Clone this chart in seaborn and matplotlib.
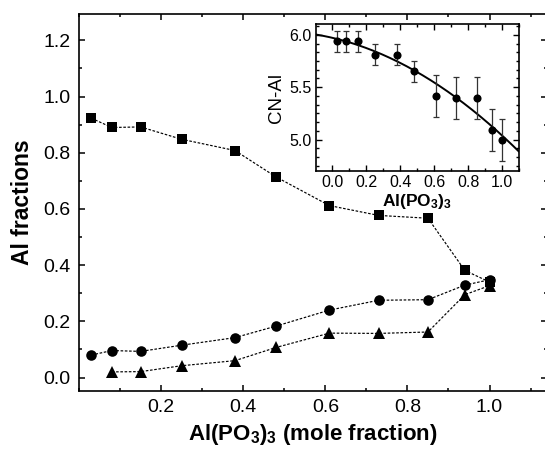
import numpy as np
import pandas as pd
import matplotlib
matplotlib.use("Agg")
import matplotlib.pyplot as plt
import seaborn as sns
from matplotlib.ticker import MultipleLocator, AutoMinorLocator

# ---- data ----
x_frac = [0.03, 0.08, 0.15, 0.25, 0.38, 0.48, 0.61, 0.73, 0.85, 0.94, 1.00]
al_square = [0.923, 0.890, 0.892, 0.848, 0.808, 0.714, 0.612, 0.577, 0.567, 0.381, 0.340]
al_circle = [0.080, 0.096, 0.093, 0.115, 0.142, 0.183, 0.240, 0.275, 0.277, 0.329, 0.348]
x_tri = [0.08, 0.15, 0.25, 0.38, 0.48, 0.61, 0.73, 0.85, 0.94, 1.00]
al_tri = [0.020, 0.021, 0.042, 0.060, 0.107, 0.158, 0.157, 0.162, 0.295, 0.327]

cn_al = [5.94, 5.94, 5.94, 5.81, 5.81, 5.65, 5.42, 5.40, 5.40, 5.09, 5.00]
cn_err = [0.10, 0.10, 0.10, 0.10, 0.10, 0.10, 0.20, 0.20, 0.20, 0.20, 0.20]

main_xticks = [0.2, 0.4, 0.6, 0.8, 1.0]
main_yticks = [0.0, 0.2, 0.4, 0.6, 0.8, 1.0, 1.2]
inset_xticks = [0.0, 0.2, 0.4, 0.6, 0.8, 1.0]
inset_yticks = [5.0, 5.5, 6.0]

sns.set_theme(style="ticks")
plt.rcParams['font.family'] = ['Liberation Sans', 'DejaVu Sans']
plt.rcParams['mathtext.fontset'] = 'custom'
plt.rcParams['mathtext.rm'] = 'Liberation Sans'
plt.rcParams['mathtext.bf'] = 'Liberation Sans:bold'
plt.rcParams['axes.linewidth'] = 1.2
plt.rcParams['text.color'] = 'black'
plt.rcParams['axes.labelcolor'] = 'black'
plt.rcParams['xtick.color'] = 'black'
plt.rcParams['ytick.color'] = 'black'
plt.rcParams['axes.edgecolor'] = 'black'

fig = plt.figure(figsize=(5.45, 4.51), dpi=100)
ax = fig.add_axes([79/545, 60/451, (547-79)/545, (391-14)/451])

dash = (0, (2.2, 1.4))
df_sq = pd.DataFrame({"x": x_frac, "y": al_square})
df_ci = pd.DataFrame({"x": x_frac, "y": al_circle})
df_tr = pd.DataFrame({"x": x_tri, "y": al_tri})
sns.lineplot(data=df_sq, x="x", y="y", ax=ax, color="black", lw=0.85,
             marker="s", markersize=7.0, markeredgewidth=0, linestyle=dash,
             errorbar=None, zorder=3)
sns.lineplot(data=df_ci, x="x", y="y", ax=ax, color="black", lw=0.85,
             marker="o", markersize=7.6, markeredgewidth=0, linestyle=dash,
             errorbar=None, zorder=4)
sns.lineplot(data=df_tr, x="x", y="y", ax=ax, color="black", lw=0.85,
             marker="^", markersize=8.6, markeredgewidth=0, linestyle=dash,
             errorbar=None, zorder=5)

ax.set_xlim(0.0, 1.14)
ax.set_ylim(-0.048, 1.294)
ax.set_xticks(main_xticks)
ax.set_xticklabels([f"{v:.1f}" for v in main_xticks])
ax.set_yticks(main_yticks)
ax.set_yticklabels([f"{v:.1f}" for v in main_yticks])
ax.xaxis.set_minor_locator(MultipleLocator(0.1))
ax.yaxis.set_minor_locator(MultipleLocator(0.1))
ax.tick_params(which="both", direction="in", top=True, right=True,
               width=1.1, colors="black")
ax.tick_params(which="major", length=4.5, labelsize=14, pad=6)
ax.tick_params(which="minor", length=2.5)
ax.set_xlabel(r"$\mathbf{Al(PO_3)_3}$ (mole fraction)", fontsize=16,
              fontweight="bold", labelpad=4)
ax.set_ylabel("Al fractions", fontsize=16.5, fontweight="bold", labelpad=7)
for s in ax.spines.values():
    s.set_color("black")
    s.set_linewidth(1.2)

# ---- inset ----
axi = fig.add_axes([315.7/545, (451-171)/451, (519-315.7)/545, (171-24.3)/451])
coef = np.polyfit(x_frac, cn_al, 2)
xf = np.linspace(-0.1, 1.1, 200)
df_fit = pd.DataFrame({"x": xf, "y": np.polyval(coef, xf)})
sns.lineplot(data=df_fit, x="x", y="y", ax=axi, color="black", lw=1.4,
             errorbar=None, zorder=2)
axi.errorbar(x_frac, cn_al, yerr=cn_err, fmt="none", ecolor="#333333",
             elinewidth=0.9, capsize=2, capthick=0.9, zorder=3)
sns.scatterplot(x=x_frac, y=cn_al, ax=axi, color="black", s=34,
                linewidth=0, zorder=4)
axi.set_xlim(-0.098, 1.10)
axi.set_ylim(4.70, 6.10)
axi.set_xticks(inset_xticks)
axi.set_xticklabels([f"{v:.1f}" for v in inset_xticks])
axi.set_yticks(inset_yticks)
axi.set_yticklabels([f"{v:.1f}" for v in inset_yticks])
axi.xaxis.set_minor_locator(MultipleLocator(0.1))
axi.yaxis.set_minor_locator(AutoMinorLocator(6))
axi.tick_params(which="both", direction="in", top=True, right=True,
                width=1.0, colors="black")
axi.tick_params(which="major", length=4, labelsize=11.5, pad=3)
axi.tick_params(which="minor", length=2.2)
axi.set_xlabel(r"$\mathbf{Al(PO_3)_3}$", fontsize=12.5, labelpad=1)
axi.set_ylabel("CN-Al", fontsize=13.5, labelpad=3)
for s in axi.spines.values():
    s.set_color("black")
    s.set_linewidth(1.2)

fig.savefig("out.png", dpi=100)
